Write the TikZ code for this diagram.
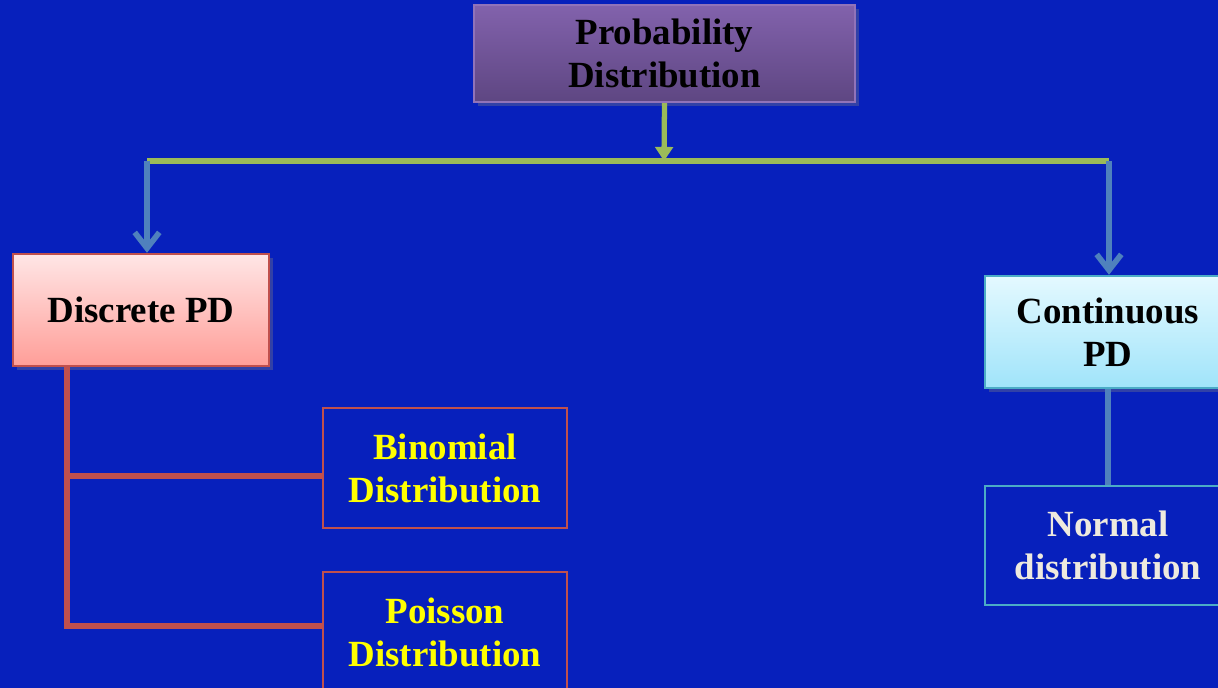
\documentclass[tikz,border=0pt]{standalone}
\usepackage{fontspec}
\setmainfont{Liberation Serif}
\usetikzlibrary{arrows.meta,shadows}

\definecolor{bgblue}{RGB}{7,32,188}
\definecolor{headtop}{RGB}{130,98,172}
\definecolor{headbot}{RGB}{94,70,130}
\definecolor{headedge}{RGB}{145,115,185}
\definecolor{pinktop}{RGB}{255,230,230}
\definecolor{pinkbot}{RGB}{255,158,152}
\definecolor{rededge}{RGB}{192,80,77}
\definecolor{cyantop}{RGB}{228,249,255}
\definecolor{cyanbot}{RGB}{160,228,250}
\definecolor{cyanedge}{RGB}{75,172,198}
\definecolor{greenlink}{RGB}{155,187,89}
\definecolor{bluelink}{RGB}{79,129,189}
\definecolor{leafyellow}{RGB}{255,255,0}
\definecolor{leafcream}{RGB}{238,234,222}

\begin{document}
\begin{tikzpicture}[x=0.02cm,y=-0.02cm]
\tikzstyle{every node} = [inner sep=0, align=center, font=\bfseries\fontsize{21}{24.5}\selectfont]
\tikzstyle{headbox} = [draw=headedge, line width=1.2, top color=headtop, bottom color=headbot, minimum width=7.62cm, minimum height=1.94cm, drop shadow={opacity=0.35}]
\tikzstyle{discbox} = [draw=rededge, line width=1.4, top color=pinktop, bottom color=pinkbot, minimum width=5.12cm, minimum height=2.24cm, drop shadow={opacity=0.35}]
\tikzstyle{contbox} = [draw=cyanedge, line width=1.4, top color=cyantop, bottom color=cyanbot, minimum width=4.92cm, minimum height=2.24cm, drop shadow={opacity=0.35}]
\tikzstyle{redleaf} = [draw=rededge, line width=1.4, text=leafyellow, minimum width=4.88cm, minimum height=2.4cm]
\tikzstyle{cyanleaf} = [draw=cyanedge, line width=1.4, text=leafcream, minimum width=4.92cm, minimum height=2.38cm]
\tikzstyle{greenedge} = [draw=greenlink, line width=3.0]
\tikzstyle{blueedge} = [draw=bluelink, line width=3.2, -{Straight Barb[length=9pt,width=14pt]}]
\tikzstyle{rededgeline} = [draw=rededge, line width=3.2]
\clip (0,0) rectangle (1218,688);
\fill[bgblue] (0,0) rectangle (1218,688);
\node[headbox] (prob) at (664.5,53.5) {Probability\\Distribution};
\node[discbox] (disc) at (141,310) {Discrete PD};
\node[contbox] (cont) at (1108,332) {Continuous\\PD};
\node[redleaf] (bino) at (445,468) {Binomial\\Distribution};
\node[redleaf] (pois) at (445,632) {Poisson\\Distribution};
\node[cyanleaf] (norm) at (1108,545.5) {Normal\\distribution};
\coordinate (split) at (664,161);
\coordinate (gl) at (147,161);
\coordinate (gr) at (1109,161);
\coordinate (trunk) at (67,366);
\draw[greenedge, -{Triangle[length=8pt,width=10pt]}] (prob.south) -- (split);
\draw[greenedge] (gl) -- (gr);
\draw[blueedge] (gl) -- (gl |- disc.north);
\draw[blueedge] (gr) -- (gr |- cont.north);
\draw[draw=bluelink, line width=3.2] (cont.south) -- (norm.north);
\draw[rededgeline] (trunk) |- ([yshift=0.12cm]pois.west);
\draw[rededgeline] ([yshift=-0.16cm]bino.west) -| (trunk);
\end{tikzpicture}
\end{document}
